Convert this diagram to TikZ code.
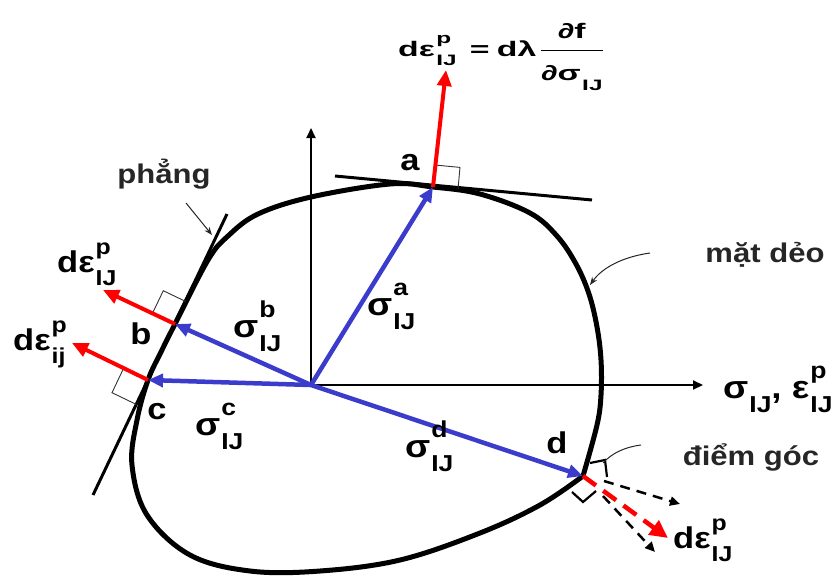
\documentclass[tikz,border=0pt]{standalone}
\usepackage{fontspec}
\usepackage{amsmath}
\setmainfont{Liberation Sans}[FakeStretch=1.15]
\usetikzlibrary{arrows.meta}
\definecolor{myblue}{RGB}{60,60,204}
\definecolor{myred}{RGB}{255,0,0}
\makeatletter
\newcommand\smallfont{\fontsize{\fpeval{0.72*\f@size}}{\fpeval{0.72*\f@size}}\selectfont}
\makeatother
\newcommand\lsub[3]{#1\kern1pt\rlap{\raisebox{0.6em}{\smallfont #2}}\raisebox{-0.45em}{\smallfont #3}}
\begin{document}
\begin{tikzpicture}[x=1pt,y=-1pt,
 lbl/.style={font=\bfseries\fontsize{30}{34}\selectfont, inner sep=0pt},
 sig/.style={font=\bfseries\fontsize{32}{36}\selectfont, inner sep=0pt, anchor=base west},
 note/.style={font=\bfseries\fontsize{27}{30}\selectfont, inner sep=0pt, text=black!85, anchor=base},
 vec/.style={myblue, line width=4.5pt, -{Triangle[length=15pt,width=13pt]}},
 rvec/.style={myred, line width=4pt, -{Triangle[length=16pt,width=14pt]}},
 axis/.style={line width=2pt, -{Triangle[length=10pt,width=9pt]}},
 surf/.style={line width=5pt, line cap=round, line join=round},
 tang/.style={line width=3pt},
 rmark/.style={line width=0.9pt, black!80},
 lead/.style={line width=1pt, black!85, -{Stealth[length=8pt,width=6pt]}},
 dvec/.style={line width=2.5pt, dash pattern=on 10pt off 7pt, -{Triangle[length=10pt,width=9pt]}},
 rdvec/.style={myred, line width=4.5pt, dash pattern=on 16pt off 9pt, -{Triangle[length=18pt,width=17pt]}},
]
\useasboundingbox (0,0) rectangle (834,576);

% key points
\coordinate (O) at (311,385);
\coordinate (a) at (433,187);
\coordinate (b) at (175,324);
\coordinate (c) at (148,380);
\coordinate (d) at (583,476);
\coordinate (ytip) at (311,128);
\coordinate (xtip) at (703,385);

% axes
\draw[axis] (O) -- (ytip);
\draw[axis] (O) -- (xtip);

% yield surface
\draw[surf] plot[smooth, tension=0.6] coordinates {(d) (597,425) (601,395) (601,360) (597,327) (589,294) (576,264) (557,236) (530,213) (480,194) (a) (390,184) (311,197) (258,214) (228,236) (208,260) (b) (161,352) (c) (137,420) (132,465) (147,515) (190,555) (250,571) (320,571) (400,560) (480,533) (540,505) (d)};

% tangent lines
\coordinate (ta1) at (335,176); \coordinate (ta2) at (592,200);
\draw[tang] (ta1) -- (ta2);
\coordinate (tb1) at (227,214); \coordinate (tb2) at (93,495);
\draw[tang] (tb1) -- (tb2);

% right-angle marks
\draw[rmark] (435,165) -- (460,167.4) -- (458,189);
\draw[rmark] (152.5,313.2) -- (163.3,290.7) -- (185.8,301.5);
\draw[rmark] (123.6,368.3) -- (112,392.7) -- (136.3,404.4);
\draw[rmark, line width=2.2pt, black] (572,492) -- (583,502) -- (596,491);
\draw[rmark, line width=2.2pt, black] (590,463) -- (605,460) -- (607,477);

% normal (strain increment) vectors
\coordinate (ra) at (446,70);
\coordinate (rb) at (103,290);
\coordinate (rc) at (72,343);
\draw[rvec] (a) -- (ra);
\draw[rvec] (b) -- (rb);
\draw[rvec] (c) -- (rc);

% stress vectors
\draw[vec] (O) -- (a);
\draw[vec] (O) -- (b);
\draw[vec] (O) -- (c);
\draw[vec] (O) -- (d);

% corner: dashed cone
\coordinate (du1) at (604,481); \coordinate (du2) at (680,504);
\coordinate (dl1) at (603,496); \coordinate (dl2) at (655,552);
\coordinate (dr) at (668,538);
\draw[dvec] (du1) -- (du2);
\draw[dvec] (dl1) -- (dl2);
\draw[rdvec] (d) -- (dr);

% leaders
\coordinate (p1) at (186,203); \coordinate (p2) at (212,235);
\draw[lead] (p1) -- (p2);
\coordinate (m1) at (650,253); \coordinate (m2) at (590,285);
\draw[lead] (m1) .. controls (622,257) and (602,268) .. (m2);
\coordinate (g1) at (641,445); \coordinate (g2) at (603,463);
\draw[line width=1pt, black!85] (g1) .. controls (625,447) and (612,453) .. (g2);

% labels
\node[lbl] (la) at (410,163) {a};
\node[lbl] (lb) at (141,334) {b};
\node[lbl] (lc) at (157,412) {c};
\node[lbl] (ld) at (557,443) {d};

\node[sig] (sa) at (367,315) {\lsub{σ}{a}{IJ}};
\node[sig] (sb) at (233,337) {\lsub{σ}{b}{IJ}};
\node[sig] (sc) at (195,435) {\lsub{σ}{c}{IJ}};
\node[sig] (sd) at (405,457) {\lsub{σ}{d}{IJ}};

\node[lbl, anchor=base west] (eb) at (57,272) {\lsub{dε}{p}{IJ}};
\node[lbl, anchor=base west] (ec) at (13,350) {\lsub{dε}{p}{ij}};
\node[lbl, anchor=base west] (ed) at (673,548) {\lsub{dε}{p}{IJ}};
\node[sig] (ax) at (723,398) {σ\kern1pt\raisebox{-0.45em}{\smallfont IJ}, \lsub{ε}{p}{IJ}};

\node[anchor=base west, inner sep=0pt, font=\bfseries\fontsize{21}{25}\selectfont] (f) at (398,56)
 {\scalebox{1.4}[1]{\lsub{dε}{p}{IJ}\hspace{0.45em}=\hspace{0.25em}dλ\hspace{0.1em}$\dfrac{\text{∂f}\rule[-9pt]{0pt}{9pt}}{\rule{0pt}{27pt}\text{\lsub{∂σ}{}{IJ}}}$}};

\node[note] (nph) at (164,183) {phẳng};
\node[note] (nmd) at (765,262) {mặt dẻo};
\node[note] (ndg) at (751,465) {điểm góc};
\end{tikzpicture}
\end{document}
